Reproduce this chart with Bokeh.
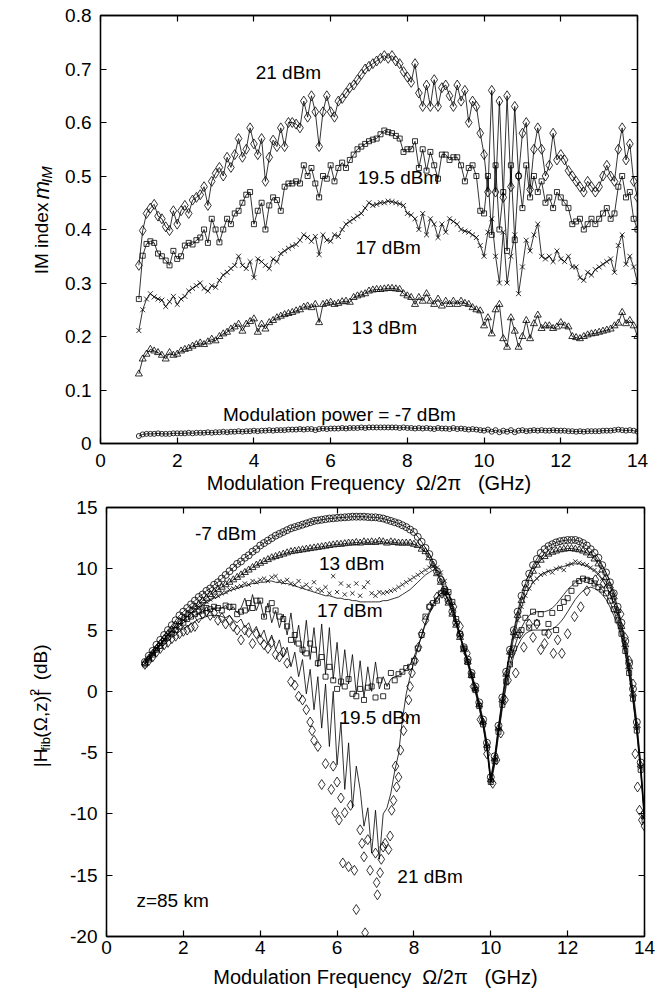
import math
from bokeh.plotting import figure
from bokeh.models import Range1d, LinearAxis, FixedTicker, Label
from bokeh.layouts import column, row
from bokeh.core.properties import value
from bokeh.embed import file_html
from bokeh.resources import INLINE

FONT = "Liberation Sans"

# ---------------- data ----------------
freq = [
    1.0, 1.1, 1.2, 1.3, 1.4, 1.5, 1.6, 1.7, 1.8, 1.9,
    2.0, 2.1, 2.2, 2.3, 2.4, 2.5, 2.6, 2.7, 2.8, 2.9,
    3.0, 3.1, 3.2, 3.3, 3.4, 3.5, 3.6, 3.7, 3.8, 3.9,
    4.0, 4.1, 4.2, 4.3, 4.4, 4.5, 4.6, 4.7, 4.8, 4.9,
    5.0, 5.1, 5.2, 5.3, 5.4, 5.5, 5.6, 5.7, 5.8, 5.9,
    6.0, 6.1, 6.2, 6.3, 6.4, 6.5, 6.6, 6.7, 6.8, 6.9,
    7.0, 7.1, 7.2, 7.3, 7.4, 7.5, 7.6, 7.7, 7.8, 7.9,
    8.0, 8.1, 8.2, 8.3, 8.4, 8.5, 8.6, 8.7, 8.8, 8.9,
    9.0, 9.1, 9.2, 9.3, 9.4, 9.5, 9.6, 9.7, 9.8, 9.9,
    10.0, 10.1, 10.2, 10.3, 10.4, 10.5, 10.6, 10.7, 10.8, 10.9,
    11.0, 11.1, 11.2, 11.3, 11.4, 11.5, 11.6, 11.7, 11.8, 11.9,
    12.0, 12.1, 12.2, 12.3, 12.4, 12.5, 12.6, 12.7, 12.8, 12.9,
    13.0, 13.1, 13.2, 13.3, 13.4, 13.5, 13.6, 13.7, 13.8, 13.9,
    14.0]

x_ticks = [0, 2, 4, 6, 8, 10, 12, 14]
top_y_ticks = [0, 0.1, 0.2, 0.3, 0.4, 0.5, 0.6, 0.7, 0.8]
bot_y_ticks = [-20, -15, -10, -5, 0, 5, 10, 15]

# IM index m_IM (top panel)
mim_21 = [
    0.333, 0.398, 0.430, 0.440, 0.447, 0.425, 0.420, 0.405, 0.398, 0.435,
    0.410, 0.435, 0.445, 0.430, 0.455, 0.460, 0.465, 0.480, 0.445, 0.490,
    0.505, 0.516, 0.500, 0.535, 0.516, 0.540, 0.570, 0.535, 0.550, 0.590,
    0.560, 0.540, 0.570, 0.490, 0.535, 0.567, 0.555, 0.590, 0.555, 0.600,
    0.600, 0.597, 0.590, 0.640, 0.610, 0.650, 0.620, 0.555, 0.620, 0.650,
    0.620, 0.610, 0.640, 0.645, 0.655, 0.665, 0.670, 0.680, 0.690, 0.700,
    0.705, 0.710, 0.715, 0.720, 0.725, 0.720, 0.725, 0.715, 0.710, 0.695,
    0.685, 0.675, 0.710, 0.655, 0.630, 0.670, 0.630, 0.680, 0.630, 0.665,
    0.670, 0.650, 0.630, 0.670, 0.640, 0.660, 0.600, 0.640, 0.630, 0.580,
    0.540, 0.470, 0.660, 0.470, 0.640, 0.460, 0.650, 0.480, 0.630, 0.500,
    0.580, 0.600, 0.475, 0.550, 0.590, 0.550, 0.500, 0.520, 0.580, 0.530,
    0.540, 0.530, 0.510, 0.500, 0.490, 0.480, 0.470, 0.490, 0.480, 0.470,
    0.480, 0.500, 0.520, 0.500, 0.490, 0.550, 0.590, 0.530, 0.560, 0.490,
    0.460]
mim_195 = [
    0.270, 0.351, 0.373, 0.378, 0.375, 0.355, 0.350, 0.342, 0.333, 0.360,
    0.345, 0.350, 0.370, 0.375, 0.372, 0.380, 0.385, 0.400, 0.375, 0.420,
    0.400, 0.376, 0.400, 0.420, 0.410, 0.430, 0.435, 0.450, 0.465, 0.470,
    0.410, 0.435, 0.450, 0.400, 0.445, 0.460, 0.455, 0.435, 0.480, 0.486,
    0.486, 0.490, 0.486, 0.520, 0.500, 0.515, 0.486, 0.460, 0.500, 0.495,
    0.520, 0.490, 0.515, 0.525, 0.515, 0.530, 0.540, 0.550, 0.555, 0.560,
    0.565, 0.568, 0.570, 0.578, 0.585, 0.582, 0.580, 0.575, 0.570, 0.545,
    0.550, 0.550, 0.565, 0.515, 0.550, 0.510, 0.545, 0.520, 0.495, 0.540,
    0.540, 0.530, 0.535, 0.535, 0.520, 0.490, 0.515, 0.520, 0.500, 0.435,
    0.430, 0.500, 0.390, 0.520, 0.400, 0.470, 0.360, 0.520, 0.380, 0.500,
    0.440, 0.520, 0.460, 0.500, 0.470, 0.490, 0.450, 0.460, 0.440, 0.470,
    0.460, 0.450, 0.440, 0.410, 0.415, 0.420, 0.400, 0.410, 0.420, 0.410,
    0.420, 0.430, 0.440, 0.420, 0.430, 0.480, 0.500, 0.460, 0.470, 0.420,
    0.400]
mim_17 = [
    0.211, 0.250, 0.270, 0.280, 0.274, 0.270, 0.268, 0.256, 0.265, 0.275,
    0.260, 0.270, 0.275, 0.285, 0.290, 0.295, 0.300, 0.290, 0.285, 0.295,
    0.292, 0.305, 0.315, 0.320, 0.327, 0.333, 0.350, 0.333, 0.327, 0.340,
    0.310, 0.345, 0.340, 0.333, 0.327, 0.345, 0.340, 0.355, 0.360, 0.365,
    0.369, 0.372, 0.380, 0.390, 0.385, 0.378, 0.387, 0.353, 0.390, 0.380,
    0.378, 0.390, 0.387, 0.400, 0.410, 0.415, 0.420, 0.425, 0.430, 0.440,
    0.450, 0.445, 0.447, 0.450, 0.450, 0.453, 0.452, 0.450, 0.448, 0.445,
    0.430, 0.427, 0.420, 0.400, 0.430, 0.390, 0.420, 0.410, 0.385, 0.410,
    0.395, 0.420, 0.415, 0.410, 0.400, 0.397, 0.395, 0.390, 0.385, 0.370,
    0.350, 0.395, 0.420, 0.350, 0.300, 0.395, 0.300, 0.350, 0.390, 0.280,
    0.330, 0.380, 0.360, 0.390, 0.410, 0.350, 0.345, 0.350, 0.340, 0.360,
    0.345, 0.340, 0.350, 0.330, 0.330, 0.310, 0.305, 0.320, 0.315, 0.325,
    0.330, 0.335, 0.340, 0.345, 0.320, 0.370, 0.390, 0.335, 0.350, 0.330,
    0.300]
mim_13 = [
    0.130, 0.158, 0.167, 0.176, 0.173, 0.170, 0.165, 0.158, 0.170, 0.165,
    0.167, 0.173, 0.176, 0.178, 0.182, 0.185, 0.188, 0.185, 0.190, 0.195,
    0.192, 0.200, 0.205, 0.208, 0.214, 0.218, 0.223, 0.210, 0.223, 0.228,
    0.233, 0.208, 0.223, 0.214, 0.226, 0.230, 0.235, 0.238, 0.241, 0.243,
    0.245, 0.248, 0.250, 0.255, 0.257, 0.254, 0.260, 0.226, 0.260, 0.262,
    0.264, 0.260, 0.262, 0.265, 0.266, 0.264, 0.273, 0.276, 0.278, 0.280,
    0.285, 0.287, 0.288, 0.288, 0.289, 0.290, 0.290, 0.289, 0.288, 0.280,
    0.276, 0.273, 0.260, 0.273, 0.266, 0.280, 0.266, 0.260, 0.270, 0.257,
    0.266, 0.260, 0.266, 0.260, 0.266, 0.262, 0.260, 0.254, 0.250, 0.248,
    0.220, 0.235, 0.205, 0.250, 0.260, 0.196, 0.180, 0.235, 0.210, 0.180,
    0.200, 0.230, 0.196, 0.224, 0.240, 0.215, 0.220, 0.220, 0.215, 0.218,
    0.226, 0.220, 0.218, 0.200, 0.198, 0.196, 0.200, 0.203, 0.205, 0.206,
    0.208, 0.210, 0.212, 0.214, 0.220, 0.225, 0.245, 0.224, 0.230, 0.220,
    0.200]
mim_m7 = [
    0.014, 0.017, 0.018, 0.018, 0.018, 0.019, 0.018, 0.018, 0.018, 0.019,
    0.019, 0.019, 0.019, 0.020, 0.019, 0.020, 0.020, 0.020, 0.021, 0.020,
    0.021, 0.021, 0.022, 0.021, 0.022, 0.022, 0.023, 0.022, 0.023, 0.023,
    0.024, 0.023, 0.024, 0.024, 0.025, 0.024, 0.025, 0.025, 0.025, 0.026,
    0.026, 0.026, 0.027, 0.026, 0.027, 0.027, 0.025, 0.027, 0.028, 0.027,
    0.028, 0.028, 0.028, 0.029, 0.028, 0.029, 0.029, 0.029, 0.030, 0.029,
    0.030, 0.030, 0.030, 0.030, 0.030, 0.030, 0.030, 0.030, 0.029, 0.030,
    0.029, 0.029, 0.028, 0.029, 0.028, 0.029, 0.028, 0.027, 0.029, 0.028,
    0.028, 0.027, 0.029, 0.027, 0.028, 0.027, 0.026, 0.027, 0.026, 0.025,
    0.024, 0.026, 0.022, 0.025, 0.021, 0.024, 0.022, 0.025, 0.021, 0.024,
    0.025, 0.023, 0.024, 0.025, 0.024, 0.025, 0.024, 0.024, 0.025, 0.024,
    0.024, 0.024, 0.023, 0.023, 0.022, 0.023, 0.022, 0.023, 0.023, 0.023,
    0.023, 0.024, 0.024, 0.024, 0.025, 0.026, 0.025, 0.024, 0.025, 0.024,
    0.022]

# |H_fib|^2 in dB (bottom panel), measured points
h_m7 = [
    2.4, 2.9, 3.3, 3.8, 4.2, 4.6, 5.0, 5.4, 5.8, 6.2,
    6.5, 6.8, 7.1, 7.4, 7.7, 7.9, 8.2, 8.4, 8.7, 8.9,
    9.2, 9.5, 9.8, 10.1, 10.4, 10.6, 10.9, 11.1, 11.4, 11.6,
    11.9, 12.1, 12.3, 12.5, 12.7, 12.85, 13.0, 13.15, 13.3, 13.4,
    13.5, 13.6, 13.7, 13.8, 13.9, 13.95, 14.0, 14.05, 14.1, 14.12,
    14.15, 14.18, 14.2, 14.22, 14.25, 14.25, 14.25, 14.25, 14.22, 14.2,
    14.2, 14.15, 14.1, 14.0, 13.9, 13.8, 13.7, 13.55, 13.4, 13.2,
    13.0, 12.6, 12.2, 11.7, 11.2, 10.5, 9.8, 9.1, 8.3, 7.4,
    6.5, 5.6, 4.6, 3.6, 2.6, 1.5, 0.4, -0.9, -2.3, -4.2,
    -7.0, -5.3, -2.8, -0.5, 1.6, 3.4, 5.0, 6.5, 7.8, 8.8,
    9.6, 10.3, 10.8, 11.3, 11.6, 11.85, 12.0, 12.15, 12.25, 12.3,
    12.35, 12.35, 12.35, 12.25, 12.1, 11.9, 11.6, 11.3, 10.9, 10.3,
    9.7, 8.9, 8.0, 6.9, 5.6, 4.1, 2.3, 0.2, -2.5, -5.8,
    -10.0]
h_13 = [
    2.3, 2.7, 3.1, 3.5, 3.9, 4.3, 4.7, 5.0, 5.4, 5.7,
    6.0, 6.3, 6.6, 6.9, 7.1, 7.4, 7.6, 7.9, 8.1, 8.3,
    8.5, 8.7, 8.9, 9.1, 9.3, 9.5, 9.7, 9.9, 10.1, 10.3,
    10.45, 10.6, 10.75, 10.9, 11.0, 11.1, 11.2, 11.3, 11.4, 11.45,
    11.5, 11.55, 11.6, 11.65, 11.7, 11.75, 11.8, 11.85, 11.9, 11.95,
    12.0, 12.0, 12.05, 12.1, 12.1, 12.15, 12.1, 12.2, 12.15, 12.2,
    12.15, 12.25, 12.2, 12.1, 12.2, 12.15, 12.1, 12.1, 12.1, 12.1,
    12.0, 11.9, 11.6, 11.4, 10.9, 10.3, 9.6, 8.9, 8.1, 7.2,
    6.3, 5.4, 4.4, 3.4, 2.4, 1.3, 0.2, -1.1, -2.5, -4.4,
    -7.2, -5.5, -3.0, -0.7, 1.4, 3.2, 4.8, 6.2, 7.4, 8.4,
    9.2, 9.8, 10.3, 10.7, 11.0, 11.2, 11.35, 11.45, 11.55, 11.6,
    11.65, 11.65, 11.6, 11.55, 11.45, 11.3, 11.1, 10.8, 10.4, 9.9,
    9.3, 8.6, 7.7, 6.6, 5.3, 3.8, 2.0, -0.2, -2.8, -6.0,
    -10.2]
h_17 = [
    2.3, 2.7, 3.1, 3.5, 3.9, 4.2, 4.6, 4.9, 5.2, 5.5,
    5.8, 6.1, 6.4, 6.7, 6.9, 7.1, 7.3, 7.5, 7.7, 7.8,
    8.0, 8.1, 8.3, 8.4, 8.5, 8.6, 8.8, 8.7, 9.0, 8.9,
    9.1, 9.2, 9.0, 9.3, 9.4, 9.0, 8.9, 9.1, 8.8, 8.7,
    9.0, 8.5, 8.7, 8.4, 8.9, 8.3, 8.2, 8.5, 8.0, 9.4,
    8.1, 8.8, 7.9, 8.6, 8.0, 8.8, 7.8, 8.5, 8.9, 8.0,
    7.8, 8.1, 8.0, 8.1, 8.2, 8.3, 8.5, 8.7, 8.9, 9.1,
    9.3, 9.5, 9.7, 9.9, 10.1, 10.2, 10.1, 9.7, 9.0, 8.0,
    7.0, 5.6, 4.6, 3.5, 2.5, 1.3, 0.2, -1.1, -2.6, -4.5,
    -7.3, -5.6, -3.1, -0.9, 1.2, 2.9, 4.4, 5.8, 6.9, 7.8,
    8.4, 8.9, 9.2, 9.5, 9.6, 9.8, 9.7, 10.0, 10.1, 9.9,
    10.3, 10.4, 10.6, 10.5, 10.4, 10.3, 10.1, 9.9, 9.6, 9.2,
    8.7, 8.1, 7.3, 6.3, 5.1, 3.6, 1.8, -0.4, -3.0, -6.2,
    -10.3]
h_195 = [
    2.2, 2.6, 3.0, 3.4, 3.7, 4.1, 4.4, 4.7, 5.0, 5.3,
    5.6, 5.9, 6.1, 6.3, 6.5, 6.6, 6.8, 6.7, 6.9, 6.8,
    6.6, 7.0, 6.9, 6.9, 6.3, 6.5, 6.6, 7.2, 6.8, 7.4,
    7.4, 6.1, 6.7, 7.2, 6.6, 6.1, 5.9, 5.3, 4.2, 4.6,
    3.9, 3.4, 3.1, 3.9, 3.4, 2.3, 2.8, 1.2, 2.0, 0.9,
    0.2, 0.8, 0.4, 1.0, -0.2, -0.4, 0.2, -0.7, 0.3, 0.4,
    -0.5, 0.9, -0.4, 0.4, 1.5, 0.9, 1.4, 1.6, 1.9, 2.0,
    2.5, 3.5, 4.6, 6.1, 6.9, 7.2, 7.4, 8.0, 8.2, 8.1,
    7.3, 5.9, 4.7, 3.5, 2.4, 1.3, 0.1, -1.2, -2.7, -4.6,
    -7.4, -5.7, -3.3, -1.1, 0.8, 2.2, 3.5, 4.6, 5.0, 6.0,
    5.2, 6.5, 5.6, 6.3, 4.8, 5.5, 6.4, 5.0, 6.8, 7.3,
    7.6, 8.2, 8.8, 9.0, 9.2, 9.1, 9.0, 8.8, 8.5, 8.3,
    8.0, 7.4, 6.7, 5.8, 4.7, 3.3, 1.5, -0.6, -3.2, -6.4,
    -10.5]
f_21 = [
    1.0, 1.1, 1.2, 1.3, 1.4, 1.5, 1.6, 1.7, 1.8, 1.9,
    2.0, 2.1, 2.2, 2.3, 2.4, 2.5, 2.6, 2.7, 2.8, 2.9,
    3.0, 3.1, 3.2, 3.3, 3.4, 3.5, 3.6, 3.7, 3.8, 3.9,
    4.0, 4.1, 4.2, 4.3, 4.4, 4.5, 4.6, 4.7, 4.8, 4.9,
    5.0, 5.1, 5.2, 5.3, 5.35, 5.4, 5.5, 5.6, 5.7, 5.85, 5.9, 5.95,
    6.0, 6.05, 6.1, 6.15, 6.2, 6.3, 6.35, 6.45, 6.5, 6.6, 6.65, 6.7, 6.73, 6.8, 6.86,
    7.0, 7.03, 7.05, 7.12, 7.15, 7.2, 7.25, 7.34, 7.38, 7.42, 7.47, 7.52, 7.55, 7.6,
    7.65, 7.73, 7.78, 7.86, 7.9, 7.95,
    8.03, 8.12, 8.2, 8.3, 8.42, 8.6, 8.73, 8.86,
    9.03, 9.2, 9.38, 9.55, 9.73, 9.9,
    10.05, 10.15, 10.26, 10.37, 10.45, 10.54, 10.65, 10.75, 10.86,
    11.0, 11.1, 11.2, 11.3, 11.4, 11.5, 11.63, 11.74, 11.85,
    12.0, 12.18, 12.34, 12.5, 12.72, 12.94,
    13.16, 13.38, 13.49, 13.6, 13.7, 13.76, 13.82, 13.87, 13.93, 14.0]
h_21 = [
    2.2, 2.5, 2.8, 3.2, 3.5, 3.8, 4.0, 4.3, 4.5, 4.7,
    4.9, 5.0, 5.2, 5.3, 6.0, 6.3, 6.5, 6.2, 6.4, 5.8,
    6.0, 5.5, 5.8, 5.3, 5.0, 4.2, 5.0, 4.8, 3.9, 4.7,
    4.2, 3.8, 3.5, 4.0, 3.0, 2.8, 3.2, 2.3, 0.8, 0.5,
    -0.4, -0.7, -1.5, -2.5, -3.2, -4.0, -4.5, -7.6, -5.9, -8.0, -6.1, -9.9,
    -7.4, -10.5, -8.7, -14.0, -9.9, -14.3, -9.3, -14.6, -17.8, -11.3, -12.4, -13.5, -19.7, -12.1, -14.6,
    -13.2, -15.6, -16.6, -14.8, -13.7, -12.7, -12.4, -12.9, -11.8, -9.7, -8.9, -6.1, -7.8, -7.0,
    -4.8, -3.2, -2.1, -0.7, 0.4, 1.5,
    2.5, 3.6, 4.7, 5.8, 6.9, 7.7, 8.0, 7.7,
    6.9, 5.3, 3.1, 0.4, -2.3, -5.1,
    -7.5, -5.6, -3.4, -0.7, 0.9, 3.1, 1.5, 4.7, 3.6,
    5.5, 4.4, 5.5, 3.4, 3.9, 4.7, 3.1, 4.2, 3.1,
    4.7, 6.1, 6.9, 8.2, 9.1, 8.8,
    8.0, 6.3, 4.4, 2.5, 0.6, -5.1, -7.8, -9.7, -10.5, -11.0]

# theory curves (bottom panel, solid lines)
th_17 = [
    2.3, 2.7, 3.1, 3.5, 3.9, 4.2, 4.6, 4.9, 5.2, 5.5,
    5.8, 6.1, 6.4, 6.6, 6.8, 7.0, 7.2, 7.4, 7.6, 7.7,
    7.9, 8.0, 8.2, 8.3, 8.4, 8.5, 8.6, 8.7, 8.8, 8.8,
    8.9, 8.9, 9.0, 9.0, 8.9, 8.9, 8.8, 8.8, 8.7, 8.6,
    8.5, 8.4, 8.3, 8.2, 8.1, 8.0, 7.9, 7.8, 7.8, 7.7,
    7.6, 7.6, 7.5, 7.5, 7.4, 7.4, 7.3, 7.3, 7.3, 7.3,
    7.3, 7.3, 7.4, 7.4, 7.5, 7.6, 7.7, 7.9, 8.1, 8.3,
    8.6, 8.9, 9.2, 9.5, 9.7, 9.9, 9.9, 9.6, 9.0, 8.0,
    7.0, 5.7, 4.6, 3.5, 2.5, 1.3, 0.2, -1.1, -2.6, -4.5,
    -7.3, -5.6, -3.1, -0.9, 1.2, 2.9, 4.4, 5.8, 6.9, 7.8,
    8.4, 8.9, 9.2, 9.5, 9.7, 9.8, 9.9, 10.0, 10.1, 10.2,
    10.3, 10.4, 10.4, 10.4, 10.3, 10.2, 10.0, 9.8, 9.5, 9.1,
    8.6, 8.0, 7.2, 6.2, 5.0, 3.5, 1.7, -0.5, -3.1, -6.3,
    -10.3]
th_195 = [
    2.2, 2.6, 3.0, 3.4, 3.7, 4.1, 4.4, 4.7, 5.0, 5.3,
    5.6, 5.8, 6.0, 6.2, 6.4, 6.5, 6.6, 6.7, 6.8, 6.8,
    6.8, 7.0, 6.6, 6.9, 6.4, 6.8, 7.6, 6.5, 7.9, 6.6,
    7.4, 6.0, 7.2, 5.6, 6.6, 5.2, 6.3, 4.6, 6.4, 3.8,
    5.4, 3.0, 5.8, 2.6, 5.2, 2.0, 5.5, 1.4, 5.2, 1.0,
    4.0, 0.4, 3.4, 0.6, 3.0, -0.2, 2.5, -0.5, 2.0, 0.0,
    2.4, 0.2, 1.2, 0.4, 1.0, 1.2, 1.3, 1.5, 1.8, 2.2,
    2.8, 3.6, 4.5, 5.5, 6.3, 7.0, 7.6, 8.0, 8.2, 8.0,
    7.2, 5.8, 4.6, 3.4, 2.3, 1.2, 0.0, -1.3, -2.8, -4.7,
    -7.4, -5.8, -3.4, -1.2, 0.7, 2.2, 3.4, 4.4, 5.2, 5.8,
    6.2, 6.4, 6.5, 6.5, 6.5, 6.6, 6.8, 7.1, 7.5, 7.9,
    8.3, 8.6, 8.9, 9.1, 9.2, 9.2, 9.1, 8.9, 8.6, 8.3,
    7.9, 7.3, 6.6, 5.7, 4.6, 3.2, 1.4, -0.7, -3.3, -6.5,
    -10.5]
th_21 = [
    2.2, 2.5, 2.9, 3.2, 3.5, 3.8, 4.1, 4.4, 4.6, 4.9,
    5.1, 5.3, 5.5, 5.7, 5.9, 6.0, 6.1, 6.2, 6.2, 6.2,
    6.1, 6.0, 6.2, 5.8, 5.6, 5.9, 5.2, 5.6, 4.8, 5.3,
    4.4, 5.0, 3.9, 4.6, 3.4, 4.2, 2.8, 3.6, 2.0, 3.2,
    1.2, 2.6, -0.2, 1.8, -1.5, 1.2, -3.0, 0.6, -4.5, 0.0,
    -6.0, -2.5, -8.0, -4.2, -9.5, -6.1, -8.0, -11.0, -9.5, -13.2,
    -9.7, -13.7, -10.0, -9.5, -8.3, -6.5, -5.1, -2.3, -0.2, 1.2,
    2.4, 3.5, 4.6, 5.6, 6.5, 7.2, 7.7, 8.0, 7.9, 7.5,
    6.8, 5.6, 4.5, 3.3, 2.2, 1.1, -0.1, -1.4, -2.9, -4.8,
    -7.6, -6.0, -3.6, -1.4, 0.4, 1.8, 2.9, 3.7, 4.3, 4.7,
    4.9, 5.0, 5.0, 5.0, 5.0, 5.0, 5.1, 5.3, 5.6, 6.0,
    6.5, 7.0, 7.5, 7.9, 8.2, 8.4, 8.5, 8.4, 8.2, 7.9,
    7.5, 6.9, 6.2, 5.4, 4.4, 3.0, 1.3, -0.8, -3.4, -6.6,
    -10.7]

LAB_W = 56          # width of the strip that holds the rotated y-axis titles
TOP_H, BOT_H = 496, 494
NB = "\u00a0"
XTITLE = "Modulation Frequency" + NB * 2 + "\u03a9/2\u03c0" + NB * 3 + "(GHz)"


# ---------------- helpers ----------------
def base_fig(height, yr, yticks, left, right, top, bottom, sx, sy, xlab_standoff):
    p = figure(width=666 - LAB_W, height=height, output_backend="svg", toolbar_location=None,
               x_range=Range1d(0, 14), y_range=Range1d(*yr),
               min_border_left=left, min_border_right=right,
               min_border_top=top, min_border_bottom=bottom)
    p.grid.visible = False
    p.background_fill_color = "white"
    p.border_fill_color = "white"
    p.outline_line_color = "black"
    p.outline_line_width = 1.3
    for ax in (p.xaxis[0], p.yaxis[0]):
        ax.major_tick_in = 6
        ax.major_tick_out = 0
        ax.minor_tick_line_color = None
        ax.axis_line_width = 1.3
        ax.major_tick_line_width = 1.2
        ax.major_label_text_font = FONT
        ax.major_label_text_font_size = "19px"
        ax.major_label_text_color = "black"
    p.xaxis.ticker = FixedTicker(ticks=x_ticks)
    p.yaxis.ticker = FixedTicker(ticks=yticks)
    p.yaxis.major_label_overrides = {t: ("%g" % t) for t in yticks}
    p.xaxis.major_label_standoff = sx
    p.yaxis.major_label_standoff = sy
    p.xaxis.axis_label = XTITLE
    p.xaxis.axis_label_text_font = FONT
    p.xaxis.axis_label_text_font_size = "20px"
    p.xaxis.axis_label_text_font_style = "normal"
    p.xaxis.axis_label_text_color = "black"
    p.xaxis.axis_label_standoff = xlab_standoff
    for loc, ticks in (("above", x_ticks), ("right", yticks)):
        ax = LinearAxis(ticker=FixedTicker(ticks=ticks), major_tick_in=6, major_tick_out=0,
                        major_tick_line_width=1.2, minor_tick_line_color=None,
                        axis_line_width=1.3, major_label_text_color=None,
                        major_label_text_font_size="1px", major_label_standoff=0)
        p.add_layout(ax, loc)
    return p


def label_strip(height):
    s = figure(width=LAB_W, height=height, output_backend="svg", toolbar_location=None,
               x_range=Range1d(0, LAB_W), y_range=Range1d(height, 0),
               x_axis_type=None, y_axis_type=None, min_border=0)
    s.grid.visible = False
    s.outline_line_color = None
    s.background_fill_color = "white"
    s.border_fill_color = "white"
    return s


def vtext(s, x, y, text, size, italic=False):
    s.text(x=[x], y=[y], text=[text], angle=math.pi / 2, text_align="left",
           text_baseline="alphabetic", text_font=value(FONT), text_font_size=value(f"{size}px"),
           text_font_style="italic" if italic else "normal", text_color="black")


def dtext(p, x, y, text, size=19):
    p.add_layout(Label(x=x, y=y, text=text, text_align="center", text_baseline="middle",
                       text_font=FONT, text_font_size=f"{size}px", text_color="black"))


LW = 0.8

# ---------------- top panel ----------------
p1 = base_fig(TOP_H, (0, 0.8), top_y_ticks, 100 - LAB_W, 29, 15, TOP_H - 443, 10, 9, 2)

for ys, mk, sz in ((mim_21, "diamond", 10), (mim_195, "square", 5), (mim_17, "x", 7),
                   (mim_13, "triangle", 7), (mim_m7, "circle", 5)):
    p1.line(freq, ys, line_color="black", line_width=LW)
    p1.scatter(freq, ys, marker=mk, size=sz, line_color="black", fill_color=None, line_width=0.8)

dtext(p1, 4.9, 0.694, "21 dBm")
dtext(p1, 7.77, 0.498, "19.5 dBm")
dtext(p1, 7.5, 0.367, "17 dBm")
dtext(p1, 7.4, 0.217, "13 dBm")
dtext(p1, 6.23, 0.055, "Modulation power = -7 dBm")

s1 = label_strip(TOP_H)
vtext(s1, 41, 300, "IM index", 19)
vtext(s1, 41, 213, "m", 22, italic=True)
vtext(s1, 46, 194, "IM", 15, italic=True)

# ---------------- bottom panel ----------------
top2 = 507 - TOP_H
p2 = base_fig(BOT_H, (-20, 15), bot_y_ticks, 106 - LAB_W, 22, top2, BOT_H - top2 - 430, 4, 9, 9)

for ys in (h_m7, h_13, th_17, th_195, th_21):
    p2.line(freq, ys, line_color="black", line_width=LW)
p2.scatter(freq, h_m7, marker="circle", size=7, line_color="black", fill_color=None, line_width=0.8)
p2.scatter(freq, h_13, marker="triangle", size=7, line_color="black", fill_color=None, line_width=0.8)
p2.scatter(freq, h_17, marker="x", size=6, line_color="black", line_width=0.8)
p2.scatter(freq, h_195, marker="square", size=5, line_color="black", fill_color=None, line_width=0.8)
p2.scatter(f_21, h_21, marker="diamond", size=10, line_color="black", fill_color=None, line_width=0.8)

dtext(p2, 3.1, 12.9, "-7 dBm")
dtext(p2, 6.38, 10.4, "13 dBm")
dtext(p2, 6.33, 6.6, "17 dBm")
dtext(p2, 7.12, -2.1, "19.5 dBm")
dtext(p2, 8.42, -15.1, "21 dBm")
dtext(p2, 1.72, -17.1, "z=85 km")

s2 = label_strip(BOT_H)
vtext(s2, 40, 299, "|H", 19)
vtext(s2, 45, 280, "fib", 13)
vtext(s2, 40, 265, "(\u03a9,z)|", 19)
vtext(s2, 34, 217, "2", 13)
vtext(s2, 40, 199, "(dB)", 19)

layout = column(row(s1, p1, spacing=0), row(s2, p2, spacing=0), spacing=0)
open("out.html", "w").write(file_html(layout, INLINE))
